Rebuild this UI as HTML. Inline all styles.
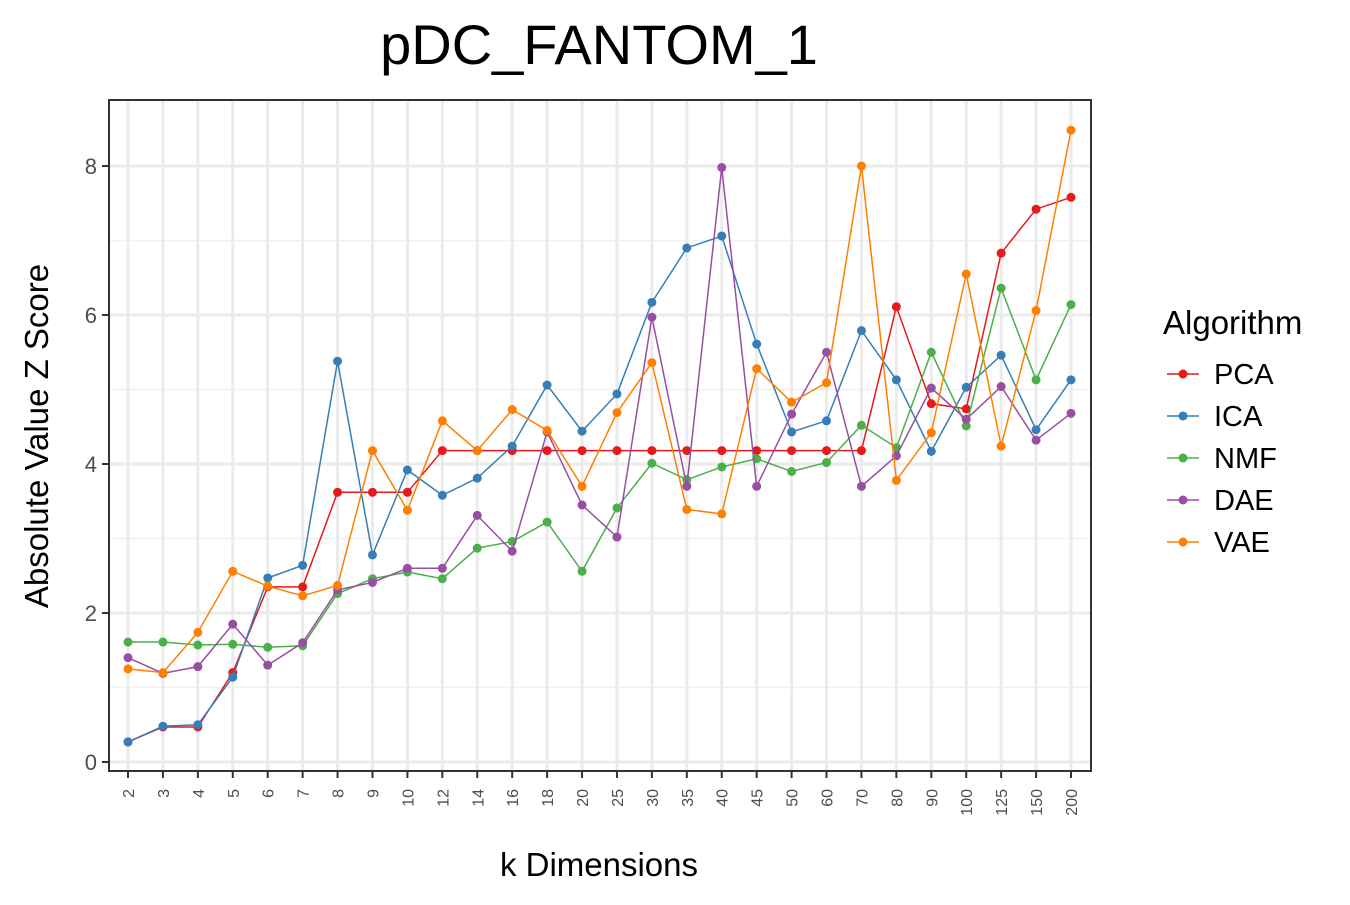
<!DOCTYPE html>
<html><head><meta charset="utf-8"><style>
body{margin:0;background:#fff;}
svg text{font-family:"Liberation Sans",Arial,sans-serif;}
</style></head><body>
<svg id="chart" width="1350" height="900" xmlns="http://www.w3.org/2000/svg">
<text x="599" y="64" font-size="56" text-anchor="middle" fill="#000">pDC_FANTOM_1</text>
<g id="grid"></g><g id="series"></g><g id="axes"></g>
<text x="599" y="876" font-size="33" text-anchor="middle" fill="#000">k Dimensions</text>
<text transform="translate(48,436) rotate(-90)" font-size="33" text-anchor="middle" fill="#000">Absolute Value Z Score</text>
<g id="legend"></g>
</svg>
<script>
const categories=["2","3","4","5","6","7","8","9","10","12","14","16","18","20","25","30","35","40","45","50","60","70","80","90","100","125","150","200"];
const yTicks=[0,2,4,6,8];
const seriesNames=["PCA","ICA","NMF","DAE","VAE"];
const seriesColors=["#e41a1c","#377eb8","#4daf4a","#984ea3","#ff7f00"];
const pca=[0.27,0.47,0.47,1.2,2.35,2.35,3.62,3.62,3.62,4.18,4.18,4.18,4.18,4.18,4.18,4.18,4.18,4.18,4.18,4.18,4.18,4.18,6.11,4.81,4.74,6.83,7.42,7.58];
const ica=[0.27,0.48,0.5,1.14,2.47,2.64,5.38,2.78,3.92,3.58,3.81,4.24,5.06,4.44,4.94,6.17,6.9,7.06,5.61,4.43,4.58,5.79,5.13,4.17,5.03,5.46,4.46,5.13];
const nmf=[1.61,1.61,1.57,1.58,1.54,1.56,2.26,2.46,2.55,2.46,2.87,2.96,3.22,2.56,3.41,4.01,3.79,3.96,4.07,3.9,4.02,4.52,4.22,5.5,4.51,6.36,5.13,6.14];
const dae=[1.4,1.19,1.28,1.85,1.3,1.6,2.31,2.41,2.6,2.6,3.31,2.83,4.43,3.45,3.02,5.97,3.7,7.98,3.7,4.67,5.5,3.7,4.11,5.02,4.6,5.04,4.32,4.68];
const vae=[1.25,1.2,1.74,2.56,2.36,2.23,2.37,4.18,3.38,4.58,4.18,4.73,4.45,3.7,4.69,5.36,3.39,3.33,5.28,4.83,5.09,8.0,3.78,4.42,6.55,4.24,6.06,8.48];
const allSeries=[pca,ica,nmf,dae,vae];

const NS="http://www.w3.org/2000/svg";
const L=109,R=1091,T=100,B=771;
const x0=128,x1=1071;
function xScale(i){return x0+(x1-x0)*i/(categories.length-1);}
function yScale(v){return 762-v*74.5;}
function mk(tag,attrs,parent){const e=document.createElementNS(NS,tag);for(const k in attrs)e.setAttribute(k,attrs[k]);parent.appendChild(e);return e;}
const grid=document.getElementById('grid'),axes=document.getElementById('axes'),ser=document.getElementById('series'),leg=document.getElementById('legend');
mk('rect',{x:L,y:T,width:R-L,height:B-T,fill:'#fff'},grid);
for(let v=1;v<=8;v+=2){const l=mk('line',{x1:L,x2:R,y1:yScale(v),y2:yScale(v),stroke:'#f0f0f0','stroke-width':1.5},grid);

}
yTicks.forEach(v=>{const l=mk('line',{x1:L,x2:R,y1:yScale(v),y2:yScale(v),stroke:'#ebebeb','stroke-width':3},grid);


const t=mk('line',{x1:L-7,x2:L,y1:yScale(v),y2:yScale(v),stroke:'#333','stroke-width':2},axes);


const tx=mk('text',{x:L-12,y:yScale(v)+8,'font-size':22,'text-anchor':'end',fill:'#4d4d4d'},axes);tx.textContent=v;

});
categories.forEach((c,i)=>{const x=xScale(i);
const l=mk('line',{x1:x,x2:x,y1:T,y2:B,stroke:'#ebebeb','stroke-width':3},grid);


const t=mk('line',{x1:x,x2:x,y1:B,y2:B+7,stroke:'#333','stroke-width':2},axes);


const tx=mk('text',{transform:`translate(${x+6},${B+18}) rotate(-90)`,'font-size':16,'text-anchor':'end',fill:'#4d4d4d'},axes);tx.textContent=c;

});
const frame=mk('rect',{x:L,y:T,width:R-L,height:B-T,fill:'none',stroke:'#333','stroke-width':2},axes);


allSeries.forEach((s,k)=>{const g=mk('g',{},ser);


const pts=s.map((v,i)=>xScale(i)+','+yScale(v)).join(' ');
const pl=mk('polyline',{points:pts,fill:'none',stroke:seriesColors[k],'stroke-width':1.5},g);


s.forEach((v,i)=>{const c=mk('circle',{cx:xScale(i),cy:yScale(v),r:4.5,fill:seriesColors[k]},g);

});});
const lt=mk('text',{x:1163,y:334,'font-size':33,fill:'#000'},leg);lt.textContent='Algorithm';


seriesNames.forEach((n,k)=>{const y=374+42*k;const g=mk('g',{},leg);


mk('line',{x1:1167,x2:1199,y1:y,y2:y,stroke:seriesColors[k],'stroke-width':1.5},g);
mk('circle',{cx:1183,cy:y,r:4.5,fill:seriesColors[k]},g);
const t=mk('text',{x:1214,y:y+10,'font-size':29,fill:'#000'},g);t.textContent=n;});
</script>
</body></html>
